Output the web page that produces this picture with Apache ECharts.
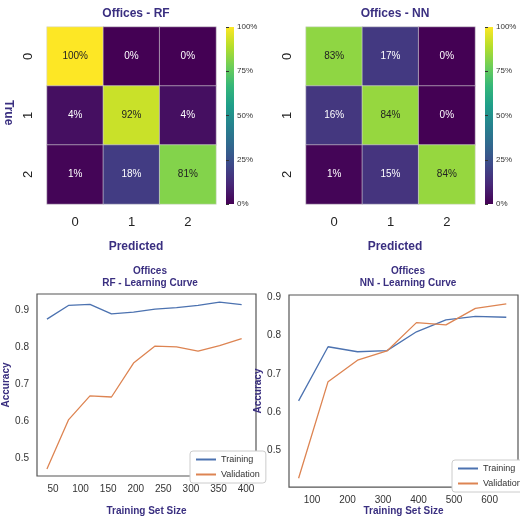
<!DOCTYPE html><html><head><meta charset="utf-8"><script src="https://cdn.jsdelivr.net/npm/echarts@6/dist/echarts.min.js"></script></head><body style="margin:0;background:#fff"><div id="c" style="width:520px;height:517px"></div><script>
const cats=['0','1','2'];
const rfMatrix=[[100,0,0],[4,92,4],[1,18,81]];
const nnMatrix=[[83,17,0],[16,84,0],[1,15,84]];
const rfSizes=[39,78,117,156,196,235,274,313,352,392];
const rfTrain=[.876,.913,.916,.890,.895,.903,.907,.913,.922,.915];
const rfVal=[.470,.603,.668,.665,.757,.803,.801,.789,.804,.823];
const nnSizes=[62,145,228,311,394,477,560,647];
const nnTrain=[.630,.771,.758,.761,.810,.841,.850,.848];
const nnVal=[.428,.680,.736,.760,.834,.828,.871,.883];
const rfXTicks=[50,100,150,200,250,300,350,400];
const nnXTicks=[100,200,300,400,500,600];
const rfYTicks=[0.5,0.6,0.7,0.8,0.9];
const nnYTicks=[0.5,0.6,0.7,0.8,0.9];
const viridis=['#440154','#482878','#3e4989','#31688e','#26828e','#1f9e89','#35b779','#6ece58','#b5de2b','#fde725'];
const navy='#3a2f80';
const tf='Liberation Sans, Arial, sans-serif';
function cells(m){const d=[];m.forEach((r,i)=>r.forEach((v,j)=>d.push({value:[j,i,v],label:{color:v>=70?'#222':'#fff'}})));return d;}
const grad={type:'linear',x:0,y:1,x2:0,y2:0,colorStops:viridis.map((c,i)=>({offset:i/(viridis.length-1),color:c}))};
const hm=[{l:47,t:27,w:169,h:177,cb:226,m:rfMatrix},{l:306,t:27,w:169,h:177,cb:485,m:nnMatrix}];
const grids=[],xA=[],yA=[],series=[];
hm.forEach((g)=>{
 grids.push({left:g.l,top:g.t,width:g.w,height:g.h});
 xA.push({type:'category',data:cats,gridIndex:grids.length-1,axisLine:{show:false},axisTick:{show:false},axisLabel:{fontSize:13,color:'#222',margin:12}});
 yA.push({type:'category',data:cats,inverse:true,gridIndex:grids.length-1,axisLine:{show:false},axisTick:{show:false},axisLabel:{fontSize:13,color:'#222',rotate:90,margin:12}});
 series.push({type:'heatmap',xAxisIndex:xA.length-1,yAxisIndex:yA.length-1,data:cells(g.m),
  itemStyle:{borderColor:'#d8d8d8',borderWidth:0.6},
  label:{show:true,fontSize:10,fontFamily:tf,formatter:p=>p.value[2]+'%'}});
 grids.push({left:g.cb,top:g.t,width:8,height:g.h,show:true,backgroundColor:grad,borderWidth:0});
 xA.push({type:'value',gridIndex:grids.length-1,show:false});
 yA.push({type:'value',gridIndex:grids.length-1,position:'right',min:0,max:100,interval:25,axisLine:{show:false},splitLine:{show:false},axisTick:{show:true,length:3,lineStyle:{color:'#333'}},axisLabel:{fontSize:8,color:'#333',margin:3,formatter:'{value}%'}});
});
const lc=[{l:34,t:294,w:222,h:187,xs:rfSizes,tr:rfTrain,va:rfVal,xmin:21,xmax:418,ymin:.451,ymax:.944,xt:rfXTicks,yt:rfYTicks},
          {l:289,t:295,w:229,h:195,xs:nnSizes,tr:nnTrain,va:nnVal,xmin:35,xmax:680,ymin:.405,ymax:.906,xt:nnXTicks,yt:nnYTicks}];
lc.forEach((g,k)=>{
 grids.push({left:g.l,top:g.t,width:g.w,height:g.h,show:true,borderColor:'#555',borderWidth:1.2});
 const gi=grids.length-1;
 xA.push({type:'value',gridIndex:gi,min:g.xmin,max:g.xmax,splitLine:{show:false},axisLine:{show:false},axisTick:{show:false,customValues:g.xt},
  axisLabel:{fontSize:10,color:'#333',customValues:g.xt},
  name:'Training Set Size',nameLocation:'middle',nameGap:k?17:30,nameTextStyle:{color:navy,fontWeight:'bold',fontSize:10}});
 yA.push({type:'value',gridIndex:gi,min:g.ymin,max:g.ymax,splitLine:{show:false},axisLine:{show:false},axisTick:{show:false,customValues:g.yt},
  axisLabel:{fontSize:10,color:'#333',customValues:g.yt,formatter:v=>v.toFixed(1)},
  name:'Accuracy',nameLocation:'middle',nameGap:k?22:26,nameTextStyle:{color:navy,fontWeight:'bold',fontSize:10}});
 series.push({type:'line',name:'Training',xAxisIndex:xA.length-1,yAxisIndex:yA.length-1,data:g.xs.map((x,i)=>[x,g.tr[i]]),showSymbol:false,lineStyle:{color:'#4c72b0',width:1.3},itemStyle:{color:'#4c72b0'}});
 series.push({type:'line',name:'Validation',xAxisIndex:xA.length-1,yAxisIndex:yA.length-1,data:g.xs.map((x,i)=>[x,g.va[i]]),showSymbol:false,lineStyle:{color:'#dd8452',width:1.3},itemStyle:{color:'#dd8452'}});
});
const lg=(l,t)=>({data:['Training','Validation'],orient:'vertical',left:l,top:t,itemWidth:20,itemHeight:2,icon:'rect',itemGap:6,textStyle:{fontSize:9,color:'#333'},backgroundColor:'#fff',borderColor:'#ccc',borderWidth:1,padding:[4,6],borderRadius:3});
const T=(text,left,top,fs)=>({text,left,top,textAlign:'center',textStyle:{color:navy,fontSize:fs,fontWeight:'bold',lineHeight:12}});
const opt={animation:false,textStyle:{fontFamily:tf},grid:grids,xAxis:xA,yAxis:yA,series,
 visualMap:[{show:false,min:0,max:100,seriesIndex:[0,1],inRange:{color:viridis}}],
 legend:[lg(190,451),lg(452,460)],
 title:[T('Offices - RF',131,3,12),T('Offices - NN',390,3,12),T('Predicted',131,236,12),T('Predicted',390,236,12),
  T('Offices\nRF - Learning Curve',145,260,10),T('Offices\nNN - Learning Curve',403,260,10)],
 graphic:[{type:'text',left:2,top:100,rotation:-Math.PI/2,style:{text:'True',fill:navy,font:'bold 12px '+tf}}]
};
const ch=echarts.init(document.getElementById('c'));ch.setOption(opt);
</script></body></html>
